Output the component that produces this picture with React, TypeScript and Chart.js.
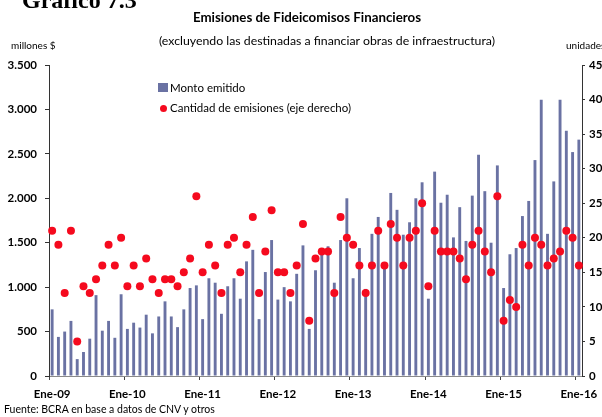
import React, { useEffect, useRef } from 'react';
import { Chart, registerables } from 'chart.js';

Chart.register(...registerables);

const monthNames = ['Ene', 'Feb', 'Mar', 'Abr', 'May', 'Jun', 'Jul', 'Ago', 'Sep', 'Oct', 'Nov', 'Dic'];
const years = ['09', '10', '11', '12', '13', '14', '15', '16'];
const categories: string[] = years.flatMap((y) => monthNames.map((m) => `${m}-${y}`)).slice(0, 85);

// Monto emitido (millones $), Ene-09 .. Ene-16
const montoEmitido = [
  750, 440, 500, 620, 190, 270, 420, 910, 510, 620, 430, 920,
  530, 600, 545, 690, 480, 670, 840, 670, 550, 750, 990, 1020,
  640, 1100, 1050, 700, 1010, 1100, 870, 1290, 1420, 640, 1170, 1530,
  860, 1000, 840, 1150, 1470, 530, 1190, 1400, 1460, 1050, 1530, 2000,
  1100, 1440, 980, 1600, 1790, 1250, 2060, 1870, 1590, 1730, 2000, 2180,
  870, 2300, 1950, 2040, 1560, 1900, 1520, 2030, 2490, 2080, 1500, 2370,
  990, 1370, 1440, 1800, 1970, 2430, 3110, 1600, 2190, 3110, 2760, 2520,
  2660,
];

// Cantidad de emisiones (unidades, eje derecho)
const cantidadEmisiones = [
  21, 19, 12, 21, 5, 13, 12, 14, 16, 19, 16, 20,
  13, 16, 13, 17, 14, 12, 14, 14, 13, 15, 17, 26,
  15, 19, 16, 12, 19, 20, 15, 19, 23, 12, 18, 24,
  15, 15, 12, 16, 22, 8, 17, 18, 18, 12, 23, 20,
  19, 16, 12, 16, 21, 16, 22, 20, 16, 20, 21, 25,
  13, 21, 18, 18, 18, 17, 14, 19, 21, 18, 15, 26,
  8, 11, 10, 19, 16, 20, 19, 16, 17, 18, 21, 20,
  16,
];

const leftTicks = [0, 500, 1000, 1500, 2000, 2500, 3000, 3500];
const rightTicks = [0, 5, 10, 15, 20, 25, 30, 35, 40, 45];

const BAR_COLOR = '#6a72a3';
const DOT_COLOR = '#f50a1e';
const FONT = 'Lato, "Open Sans", sans-serif';

const fmt = (v: number) => String(v).replace(/\B(?=(\d{3})+(?!\d))/g, '.');

export default function App() {
  const ref = useRef<HTMLCanvasElement | null>(null);

  useEffect(() => {
    if (!ref.current) return;
    const chart = new Chart(ref.current, {
      type: 'bar',
      data: {
        labels: categories,
        datasets: [
          {
            type: 'line',
            label: 'Cantidad de emisiones (eje derecho)',
            data: cantidadEmisiones,
            yAxisID: 'y1',
            showLine: false,
            pointRadius: 4,
            pointHoverRadius: 4,
            pointBackgroundColor: DOT_COLOR,
            pointBorderColor: DOT_COLOR,
            pointBorderWidth: 0,
            backgroundColor: DOT_COLOR,
            borderColor: DOT_COLOR,
            order: 0,
          } as any,
          {
            type: 'bar',
            label: 'Monto emitido',
            data: montoEmitido,
            yAxisID: 'y',
            backgroundColor: BAR_COLOR,
            borderWidth: 0,
            categoryPercentage: 1,
            barPercentage: 0.46,
            order: 1,
          },
        ],
      },
      options: {
        responsive: false,
        animation: false,
        events: [],
        layout: { padding: { top: 65, left: 0, right: 0, bottom: 0 } },
        plugins: { legend: { display: false }, title: { display: false }, tooltip: { enabled: false } },
        scales: {
          x: {
            type: 'category',
            offset: true,
            afterFit: (s: any) => { s.height = 41; },
            grid: {
              display: true,
              offset: true,
              drawOnChartArea: false,
              drawTicks: true,
              tickLength: 4,
              color: (ctx: any) => (ctx.index % 12 === 0 ? '#444' : 'rgba(0,0,0,0)'),
            },
            border: { display: true, color: '#8a8a8a', width: 1 },
            ticks: {
              autoSkip: false,
              maxRotation: 0,
              minRotation: 0,
              padding: 7,
              color: '#000',
              font: { family: FONT, size: 11.5, weight: 'bold' },
              callback: (_v: any, i: number) => (i % 12 === 0 ? categories[i] : ''),
            },
          },
          y: {
            type: 'linear',
            position: 'left',
            min: 0,
            max: 3500,
            afterFit: (s: any) => { s.width = 49; },
            afterBuildTicks: (s: any) => { s.ticks = leftTicks.map((v) => ({ value: v })); },
            grid: { display: true, drawOnChartArea: false, drawTicks: true, tickLength: 4, color: '#333' },
            border: { display: true, color: '#333', width: 1 },
            ticks: {
              padding: 8,
              color: '#000',
              font: { family: FONT, size: 11.5, weight: 'bold' },
              callback: (v: any) => fmt(Number(v)),
            },
          },
          y1: {
            type: 'linear',
            position: 'right',
            min: 0,
            max: 45,
            afterFit: (s: any) => { s.width = 38; },
            afterBuildTicks: (s: any) => { s.ticks = rightTicks.map((v) => ({ value: v })); },
            grid: { display: true, drawOnChartArea: false, drawTicks: true, tickLength: 3, color: '#333' },
            border: { display: true, color: '#333', width: 1 },
            ticks: {
              padding: 4,
              color: '#000',
              font: { family: FONT, size: 11.5, weight: 'bold' },
              callback: (v: any) => String(v),
            },
          },
        },
      },
    });
    return () => chart.destroy();
  }, []);

  const abs = (extra: React.CSSProperties): React.CSSProperties => ({
    position: 'absolute',
    whiteSpace: 'nowrap',
    fontFamily: FONT,
    color: '#000',
    ...extra,
  });

  return (
    <div style={{ position: 'fixed', left: 0, top: 0, width: 602, height: 417, overflow: 'hidden', background: '#fff' }}>
      <canvas ref={ref} width={620} height={417} style={{ position: 'absolute', left: 0, top: 0, width: 620, height: 417 }} />
      <div style={abs({ left: 22, top: -12.5, fontFamily: '"Liberation Serif", serif', fontWeight: 'bold', fontSize: 24, lineHeight: '24px' })}>
        Gráfico 7.3
      </div>
      <div style={abs({ left: 0, width: 614, top: 10, textAlign: 'center', fontWeight: 'bold', fontSize: 13.3, lineHeight: '14px' })}>
        Emisiones de Fideicomisos Financieros
      </div>
      <div style={abs({ left: 0, width: 654, top: 33.5, textAlign: 'center', fontSize: 12.3, lineHeight: '13px' })}>
        (excluyendo las destinadas a financiar obras de infraestructura)
      </div>
      <div style={abs({ left: 11, top: 40, fontSize: 10, lineHeight: '10px' })}>millones $</div>
      <div style={abs({ left: 566, top: 40, fontSize: 10, lineHeight: '10px' })}>unidades</div>
      <div style={abs({ left: 158, top: 83, width: 10, height: 9, background: BAR_COLOR })} />
      <div style={abs({ left: 170, top: 81.5, fontSize: 11.5, lineHeight: '12px' })}>Monto emitido</div>
      <div style={abs({ left: 159.5, top: 104.5, width: 7, height: 7, borderRadius: '50%', background: DOT_COLOR })} />
      <div style={abs({ left: 170, top: 101.5, fontSize: 11.5, lineHeight: '12px' })}>Cantidad de emisiones (eje derecho)</div>
      <div style={abs({ left: 4, top: 404, fontSize: 10.5, lineHeight: '11px' })}>Fuente: BCRA en base a datos de CNV y otros</div>
    </div>
  );
}
